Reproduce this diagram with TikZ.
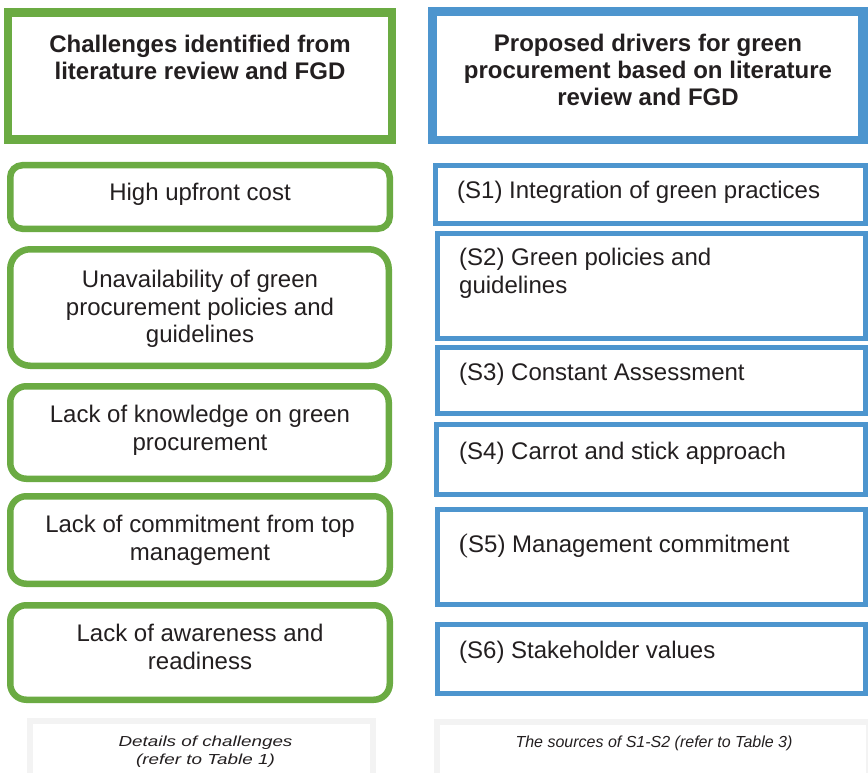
\documentclass[tikz,border=0pt]{standalone}
\usepackage{fontspec}
\usepackage{graphicx}
\setmainfont{Liberation Sans}
\newfontfamily\serifparen{Liberation Serif}
\usetikzlibrary{calc}
\definecolor{gframe}{RGB}{107,171,67}
\definecolor{bframe}{RGB}{77,149,206}
\definecolor{nframe}{RGB}{243,243,243}
\definecolor{ink}{RGB}{35,31,32}
\newcommand\centerlines[1]{\begin{tabular}[t]{@{}c@{}}#1\end{tabular}}
\newcommand\leftlines[1]{\begin{tabular}[t]{@{}l@{}}#1\end{tabular}}
\begin{document}
\begin{tikzpicture}[x=1pt,y=-1pt,
  gbox/.style={draw=gframe, line width=6.5pt, rounded corners=16pt, inner sep=0pt, fill=white},
  bbox/.style={draw=bframe, line width=5pt, inner sep=0pt, fill=white},
  hgbox/.style={draw=gframe, line width=8pt, inner sep=0pt, fill=white},
  hbbox/.style={draw=bframe, line width=8pt, inner sep=0pt, fill=white},
  innerline/.style={line width=1.5pt},
  notebox/.style={draw=nframe, line width=6pt, inner sep=0pt, fill=white},
  ttext/.style={text=ink, inner sep=0pt, font=\fontsize{24}{27.5}\selectfont},
  stext/.style={text=ink, inner sep=0pt, font=\fontsize{24}{28.5}\selectfont},
  htext/.style={text=ink, inner sep=0pt, font=\fontsize{24}{27}\selectfont\bfseries},
  ntext/.style={text=ink, inner sep=0pt, font=\fontsize{16}{18}\selectfont\itshape},
  nltext/.style={text=ink, inner sep=0pt, font=\fontsize{14.5}{18}\selectfont\itshape}]
\path[use as bounding box] (0,0) rectangle (868,773);
\clip (0,0) rectangle (868,773);

% notes
\node[notebox, minimum width=343pt, minimum height=56pt] (n1) at (201.5,749) {};
\node[notebox, minimum width=432pt, minimum height=55pt] (n2) at (653,749.5) {};

% headers
\node[hgbox, minimum width=384pt, minimum height=128pt] (hl) at (200,76) {};
\draw[gframe, innerline] ($(hl.north west)+(7,8)$) rectangle ($(hl.south east)+(-7,-8)$);
\node[hbbox, minimum width=432pt, minimum height=129pt] (hr) at (648,75.5) {};
\draw[bframe, innerline] ($(hr.north west)+(8,8)$) rectangle ($(hr.south east)+(-9,-7)$);

% challenge boxes
\node[gbox, minimum width=379.5pt, minimum height=63.5pt, rounded corners=12pt] (b1) at (200,197) {};
\node[gbox, minimum width=378.5pt, minimum height=116.5pt, rounded corners=20pt] (b2) at (199.5,307.5) {};
\node[gbox, minimum width=378.5pt, minimum height=92.5pt] (b3) at (199.5,432.5) {};
\node[gbox, minimum width=379.5pt, minimum height=87.5pt] (b4) at (200,540) {};
\node[gbox, minimum width=379.5pt, minimum height=94.5pt] (b5) at (200,652.5) {};

% driver boxes
\node[bbox, minimum width=430pt, minimum height=58pt] (s1) at (650.5,194.5) {};
\node[bbox, minimum width=428pt, minimum height=105pt] (s2) at (651.5,286) {};
\node[bbox, minimum width=428pt, minimum height=66pt] (s3) at (651.5,380.5) {};
\node[bbox, minimum width=429pt, minimum height=70pt] (s4) at (651,459.5) {};
\node[bbox, minimum width=428pt, minimum height=95pt] (s5) at (651.5,557) {};
\node[bbox, minimum width=428pt, minimum height=69pt] (s6) at (651.5,659) {};

% header texts
\node[htext, anchor=base] (thl) at (200,52.5) {\centerlines{Challenges identified from\\literature review and FGD}};
\node[htext, anchor=base] (thr) at (648,51.5) {\centerlines{Proposed drivers for green\\procurement based on literature\\review and FGD}};

% challenge texts
\node[ttext, anchor=base] (tb1) at (200,200.5) {\centerlines{High upfront cost}};
\node[ttext, anchor=base] (tb2) at (200,287.5) {\centerlines{Unavailability of green\\procurement policies and\\guidelines}};
\node[ttext, anchor=base] (tb3) at (200,422.5) {\centerlines{Lack of knowledge on green\\procurement}};
\node[ttext, anchor=base] (tb4) at (200,532.5) {\centerlines{Lack of commitment from top\\management}};
\node[ttext, anchor=base] (tb5) at (200,641.5) {\centerlines{Lack of awareness and\\readiness}};

% driver texts
\node[stext, anchor=base west] (ts1) at (457,199) {\leftlines{(S1) Integration of green practices}};
\node[stext, anchor=base west] (ts2) at (459,265) {\leftlines{(S2) Green policies and\\guidelines}};
\node[stext, anchor=base west] (ts3) at (459,380) {\leftlines{(S3) Constant Assessment}};
\node[stext, anchor=base west] (ts4) at (459,459) {\leftlines{(S4) Carrot and stick approach}};
\node[stext, anchor=base west] (ts5) at (459,552) {\leftlines{{\serifparen\fontsize{27}{27}\selectfont(}S5) Management commitment}};
\node[stext, anchor=base west] (ts6) at (459,658) {\leftlines{(S6) Stakeholder values}};

% note texts
\node[nltext, anchor=base] (tn1) at (205.5,746) {\scalebox{1.3}[1]{\centerlines{Details of challenges\\(refer to Table 1)}}};
\node[ntext, anchor=base] (tn2) at (654,747.5) {The sources of S1-S2 (refer to Table 3)};
\end{tikzpicture}
\end{document}
